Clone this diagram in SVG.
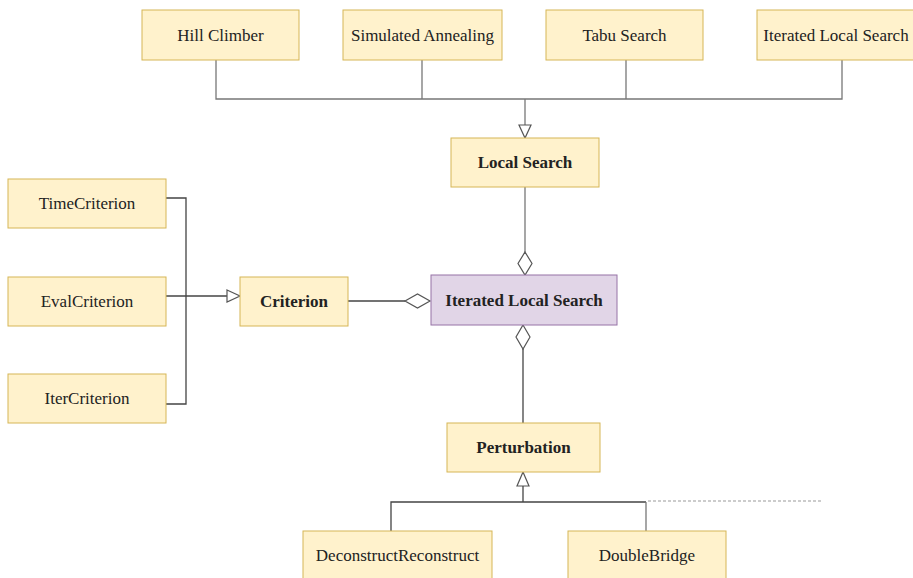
<svg xmlns="http://www.w3.org/2000/svg" width="913" height="578" viewBox="0 0 913 578">
<style>
.n{fill:#fff2cc;stroke:#d6b656;stroke-width:1}
.m{fill:#e1d5e7;stroke:#9673a6;stroke-width:1}
text{font-family:"Liberation Serif","Times New Roman",serif;font-size:17px;fill:#222;text-anchor:middle}
.b{font-weight:bold}
.l{fill:none;stroke:#444;stroke-width:1.3}
.g{fill:none;stroke:#777;stroke-width:1.3}
.h{fill:#fff;stroke:#555;stroke-width:1.2}
.d{fill:none;stroke:#999;stroke-width:1;stroke-dasharray:3 2}
</style>
<rect width="913" height="578" fill="#fff"/>
<g id="connectors">
<polyline class="g" points="216,60 216,99 842,99 842,60"/>
<line class="g" x1="422" y1="60" x2="422" y2="99"/>
<line class="g" x1="626" y1="60" x2="626" y2="99"/>
<line class="g" x1="525" y1="99" x2="525" y2="125"/>
<polygon class="h" points="519,125 531,125 525,138"/>
<line class="g" x1="525" y1="187" x2="525" y2="252"/>
<polygon class="h" points="525,252 532,263.5 525,275 518,263.5"/>
<polyline class="l" points="166,198 186,198 186,404 166,404"/>
<line class="l" x1="166" y1="296" x2="227" y2="296"/>
<polygon class="h" points="227,290 240,296 227,302"/>
<line class="l" x1="348" y1="301" x2="405" y2="301"/>
<polygon class="h" points="405,301 417.5,294 430,301 417.5,308"/>
<polygon class="h" points="523,325 530,337 523,349 516,337"/>
<line class="l" x1="523" y1="349" x2="523" y2="423"/>
<polygon class="h" points="523,472 529,486 517,486"/>
<line class="l" x1="523" y1="486" x2="523" y2="502"/>
<polyline class="l" points="391,531 391,502 646,502"/>
<line class="g" x1="646" y1="502" x2="646" y2="531"/>
<line class="d" x1="648" y1="501" x2="823" y2="501"/>
</g>
<g id="hill-climber"><rect class="n" x="142" y="10" width="157" height="50"/><text x="220.5" y="41">Hill Climber</text></g>
<g id="simulated-annealing"><rect class="n" x="343" y="10" width="159" height="50"/><text x="422.5" y="41">Simulated Annealing</text></g>
<g id="tabu-search"><rect class="n" x="546" y="10" width="157" height="50"/><text x="624.5" y="41">Tabu Search</text></g>
<g id="iterated-local-search-top"><rect class="n" x="757" y="10" width="160" height="50"/><text x="836" y="41">Iterated Local Search</text></g>
<g id="local-search"><rect class="n" x="451" y="138" width="148" height="49"/><text class="b" x="525" y="168">Local Search</text></g>
<g id="time-criterion"><rect class="n" x="8" y="179" width="158" height="49"/><text x="87" y="209">TimeCriterion</text></g>
<g id="eval-criterion"><rect class="n" x="8" y="277" width="158" height="49"/><text x="87" y="307">EvalCriterion</text></g>
<g id="iter-criterion"><rect class="n" x="8" y="374" width="158" height="49"/><text x="87" y="404">IterCriterion</text></g>
<g id="criterion"><rect class="n" x="240" y="277" width="108" height="49"/><text class="b" x="294" y="307">Criterion</text></g>
<g id="iterated-local-search"><rect class="m" x="431" y="275" width="186" height="50"/><text class="b" x="524" y="306">Iterated Local Search</text></g>
<g id="perturbation"><rect class="n" x="447" y="423" width="153" height="49"/><text class="b" x="523.5" y="453">Perturbation</text></g>
<g id="deconstruct-reconstruct"><rect class="n" x="303" y="531" width="189" height="50"/><text x="397.5" y="561">DeconstructReconstruct</text></g>
<g id="double-bridge"><rect class="n" x="568" y="531" width="158" height="50"/><text x="647" y="561">DoubleBridge</text></g>
</svg>
